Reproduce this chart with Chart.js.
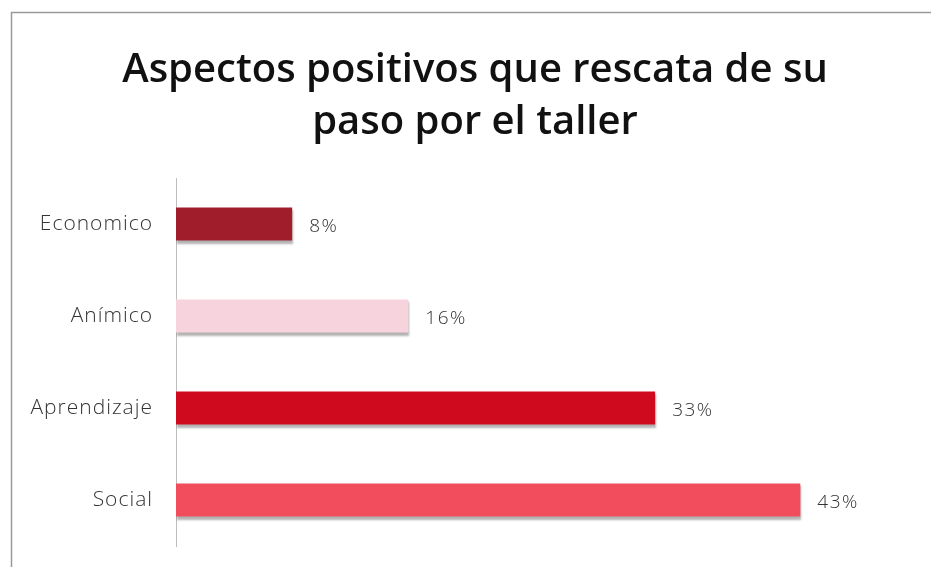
<!DOCTYPE html>
<html>
<head>
<meta charset="utf-8">
<script src="https://cdn.jsdelivr.net/npm/chart.js@4.4.0/dist/chart.umd.min.js"></script>
<style>
  html, body { margin: 0; padding: 0; background: #fff; }
  #wrap { width: 931px; height: 567px; position: relative; }
</style>
</head>
<body>
<div id="wrap"><canvas id="chart" width="931" height="567"></canvas></div>
<script>
// Data
const categories = ['Economico', 'Anímico', 'Aprendizaje', 'Social'];
const percentages = [8, 16, 33, 43];
const barColors = ['#a01e2c', '#f7d4dd', '#cf0a1f', '#f24d5d'];

// frame round the chart (only left and top edges show in the picture)
const framePlugin = {
  id: 'frame',
  beforeDraw(chart) {
    const ctx = chart.ctx;
    ctx.save();
    ctx.strokeStyle = '#9a9a9a';
    ctx.lineWidth = 1.5;
    ctx.strokeRect(11.5, 12.5, 940, 600);
    ctx.restore();
  }
};

// soft grey shadow under the bars
const shadowPlugin = {
  id: 'barShadow',
  beforeDatasetsDraw(chart) {
    const ctx = chart.ctx;
    ctx.save();
    ctx.shadowColor = 'rgba(0,0,0,0.3)';
    ctx.shadowOffsetX = 1;
    ctx.shadowOffsetY = 3;
    ctx.shadowBlur = 2;
  },
  afterDatasetsDraw(chart) {
    chart.ctx.restore();
  }
};

// value labels at the end of each bar
const valueLabels = {
  id: 'valueLabels',
  afterDatasetsDraw(chart) {
    const ctx = chart.ctx;
    const meta = chart.getDatasetMeta(0);
    ctx.save();
    ctx.font = '300 19px "Open Sans"';
    ctx.letterSpacing = '1.5px';
    ctx.fillStyle = '#333';
    ctx.textAlign = 'left';
    ctx.textBaseline = 'middle';
    meta.data.forEach(function (bar, i) {
      ctx.fillText(percentages[i] + '%', bar.x + 17, bar.y + 3);
    });
    ctx.restore();
  }
};

// the category labels in the picture are widely spaced; they are drawn after the
// datasets (ticks.z = 1), so the spacing is switched on only for them
const tickSpacing = {
  id: 'tickSpacing',
  afterDatasetsDraw(chart) {
    chart.ctx.letterSpacing = '1px';
  },
  afterDraw(chart) {
    chart.ctx.letterSpacing = '0px';
  }
};

const chart = new Chart(document.getElementById('chart'), {
  type: 'bar',
  data: {
    labels: categories,
    datasets: [{
      data: percentages,
      backgroundColor: barColors,
      borderWidth: 0,
      barPercentage: 1,
      categoryPercentage: 0.36
    }]
  },
  options: {
    indexAxis: 'y',
    responsive: false,
    animation: false,
    layout: {
      padding: { top: 45, right: 0, bottom: 21, left: 19 }
    },
    plugins: {
      legend: { display: false },
      tooltip: { enabled: false },
      title: {
        display: true,
        text: ['Aspectos positivos que rescata de su', 'paso por el taller'],
        color: '#111',
        font: { family: 'Open Sans', size: 40, weight: '600', lineHeight: 1.3 },
        padding: { top: 0, bottom: 29 }
      }
    },
    scales: {
      x: {
        display: false,
        min: 0,
        max: 52
      },
      y: {
        afterFit: function (scale) { scale.width = 157; },
        grid: { display: false, drawTicks: true, tickLength: 23 },
        border: { display: true, color: '#bdbdbd', width: 1 },
        ticks: {
          z: 1,
          color: '#333',
          padding: 0,
          font: { family: 'Open Sans', size: 21, weight: '300' }
        }
      }
    }
  },
  plugins: [framePlugin, shadowPlugin, valueLabels, tickSpacing]
});
</script>
</body>
</html>
